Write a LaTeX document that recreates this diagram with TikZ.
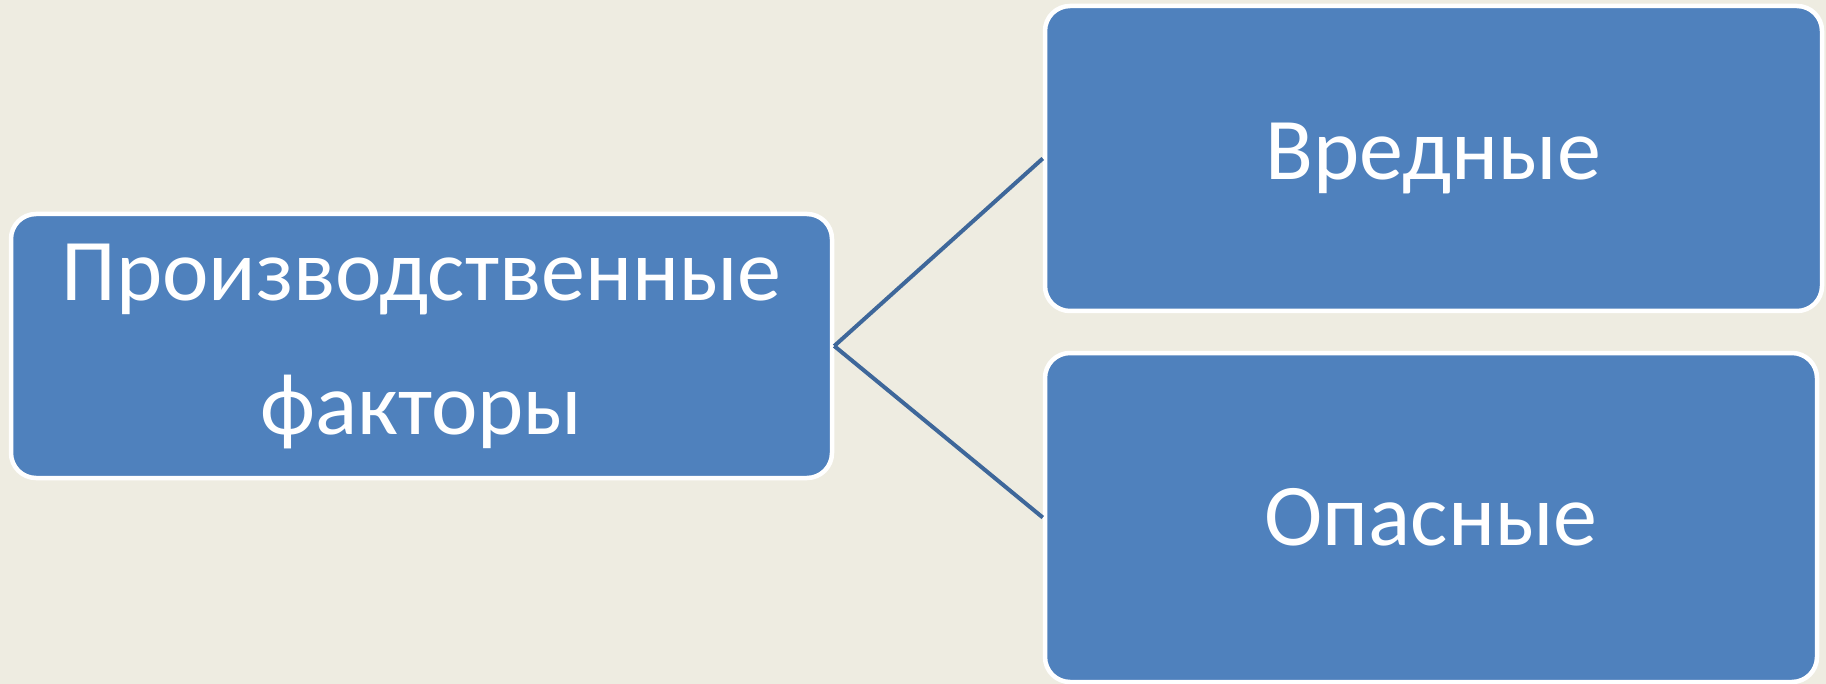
\documentclass[tikz,border=0pt]{standalone}
\usepackage{fontspec}
\setmainfont{Carlito}
\usepackage{tikz}
\definecolor{bgbeige}{HTML}{EEECE1}
\definecolor{boxblue}{HTML}{4F81BD}
\definecolor{linkblue}{HTML}{3E679A}

\begin{document}
\begin{tikzpicture}[x=0.5pt,y=-0.5pt,
    factorbox/.style={draw=white, line width=2.25pt, fill=boxblue,
      rounded corners=12.5pt, text=white, inner sep=0pt, align=center,
      font=\fontsize{44}{67}\selectfont},
    link/.style={draw=linkblue, line width=2pt}]
\fill[bgbeige] (0,0) rectangle (1826,684);
\useasboundingbox (0,0) rectangle (1826,684);
\node[factorbox, minimum width=410.5pt, minimum height=132pt]
      (factors) at (421.5,346) {Производственные\\факторы};
\node[factorbox, minimum width=388.5pt, minimum height=152.5pt]
      (harmful) at (1433.5,158.5) {Вредные};
\node[factorbox, minimum width=386pt, minimum height=164.5pt]
      (dangerous) at (1431,517.5) {Опасные};
\draw[link] (factors.east) -- (harmful.west);
\draw[link] (factors.east) -- (dangerous.west);
\end{tikzpicture}
\end{document}
